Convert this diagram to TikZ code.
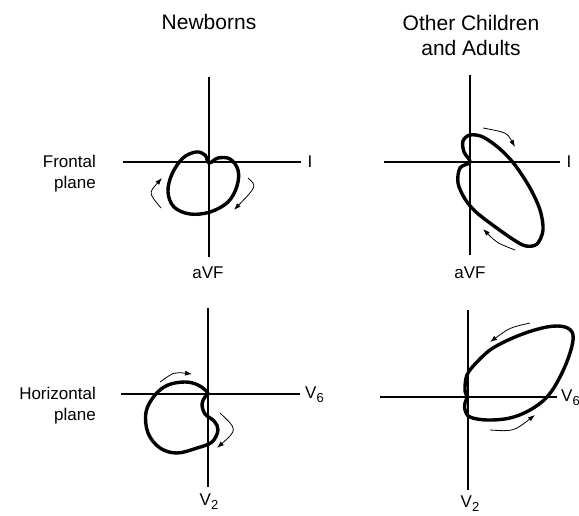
\documentclass[tikz,border=0pt]{standalone}
\usepackage{fontspec}
\setmainfont{Liberation Sans}
\usetikzlibrary{arrows.meta}
\newcommand{\lowidx}[1]{\raisebox{-4pt}{\fontsize{13}{13}\selectfont #1}}
\tikzset{
  axisline/.style={line width=1.2pt},
  vloop/.style={line width=3.4pt, line join=round},
  turnarrow/.style={line width=0.8pt, -{Latex[length=7pt,width=5pt]}},
  title/.style={font=\fontsize{21}{25}\selectfont, align=center, inner sep=0pt},
  lbl/.style={font=\fontsize{17}{21}\selectfont, inner sep=0pt}
}
\begin{document}
\begin{tikzpicture}[x=1pt,y=-1pt]
\useasboundingbox (0,0) rectangle (579,516);

\node[title] (nb) at (209,22) {Newborns};
\node[title] (oc) at (471,35) {Other Children\\and Adults};
\node[lbl, align=right, anchor=east] (fp) at (96,174) {Frontal\\plane};
\node[lbl, align=right, anchor=east] (hp) at (96,406) {Horizontal\\plane};

\draw[axisline] (209,77) -- (209,257);
\draw[axisline] (123,162) -- (301,162);
\node[lbl] (ia) at (310,162) {I};
\node[lbl] (fa) at (208,273) {aVF};
\draw[vloop] plot[smooth cycle, tension=0.6] coordinates {(209,163) (218,158) (230,159) (238,170) (237,186) (228,202) (210,212) (190,214) (174,207) (168,192) (172,174) (183,158) (196,152) (205,155)};
\draw[turnarrow] (161,208) .. controls (148.5,193) .. (162,178);
\draw[turnarrow] (248,178) .. controls (257,186) .. (234,210);

\draw[axisline] (470,75) -- (470,255);
\draw[axisline] (384,162) -- (560,162);
\node[lbl] (ib) at (569,162) {I};
\node[lbl] (fb) at (470,273) {aVF};
\draw[vloop] plot[smooth cycle, tension=0.55] coordinates {(470,162) (464,152) (463,141) (470,135) (483,137) (500,149) (515,165) (530,188) (540,210) (543,230) (537,244) (526,246) (514,240) (494,226) (476,212) (465,199) (458,183) (460,168)};
\draw[turnarrow] (483,128) .. controls (507,132.5) .. (515,147);
\draw[turnarrow] (515,250) .. controls (497,243) .. (483,229);

\draw[axisline] (208,308) -- (208,487);
\draw[axisline] (121,394) -- (300,394);
\node[lbl, anchor=west] (va) at (305,395) {V\lowidx{6}};
\node[lbl] (wa) at (209,502) {V\lowidx{2}};
\draw[vloop] plot[smooth cycle, tension=0.6] coordinates {(208,393) (198,385) (185,382) (168,385) (155,395) (146,412) (148,433) (160,448) (177,453) (197,448) (212,442) (218,430) (214,421) (205,414) (202,404) (205,397)};
\draw[turnarrow] (160,382) .. controls (174,372) .. (192,374);
\draw[turnarrow] (220,413) .. controls (237.5,429.5) .. (217,448);

\draw[axisline] (468,310) -- (468,490);
\draw[axisline] (380,397) -- (557,397);
\node[lbl, anchor=west] (vb) at (561,398) {V\lowidx{6}};
\node[lbl] (wb) at (470,504) {V\lowidx{2}};
\draw[vloop] plot[smooth cycle, tension=0.6] coordinates {(467,397) (465,390) (467,375) (477,362) (493,348) (520,335) (547,327) (565,327) (573,335) (570,353) (560,377) (547,397) (530,410) (510,418) (487,420) (470,417) (465,410) (465,403)};
\draw[turnarrow] (530,323) .. controls (510,327.5) .. (490,342);
\draw[turnarrow] (490,430) .. controls (513.5,431.5) .. (535,415);
\end{tikzpicture}
\end{document}
